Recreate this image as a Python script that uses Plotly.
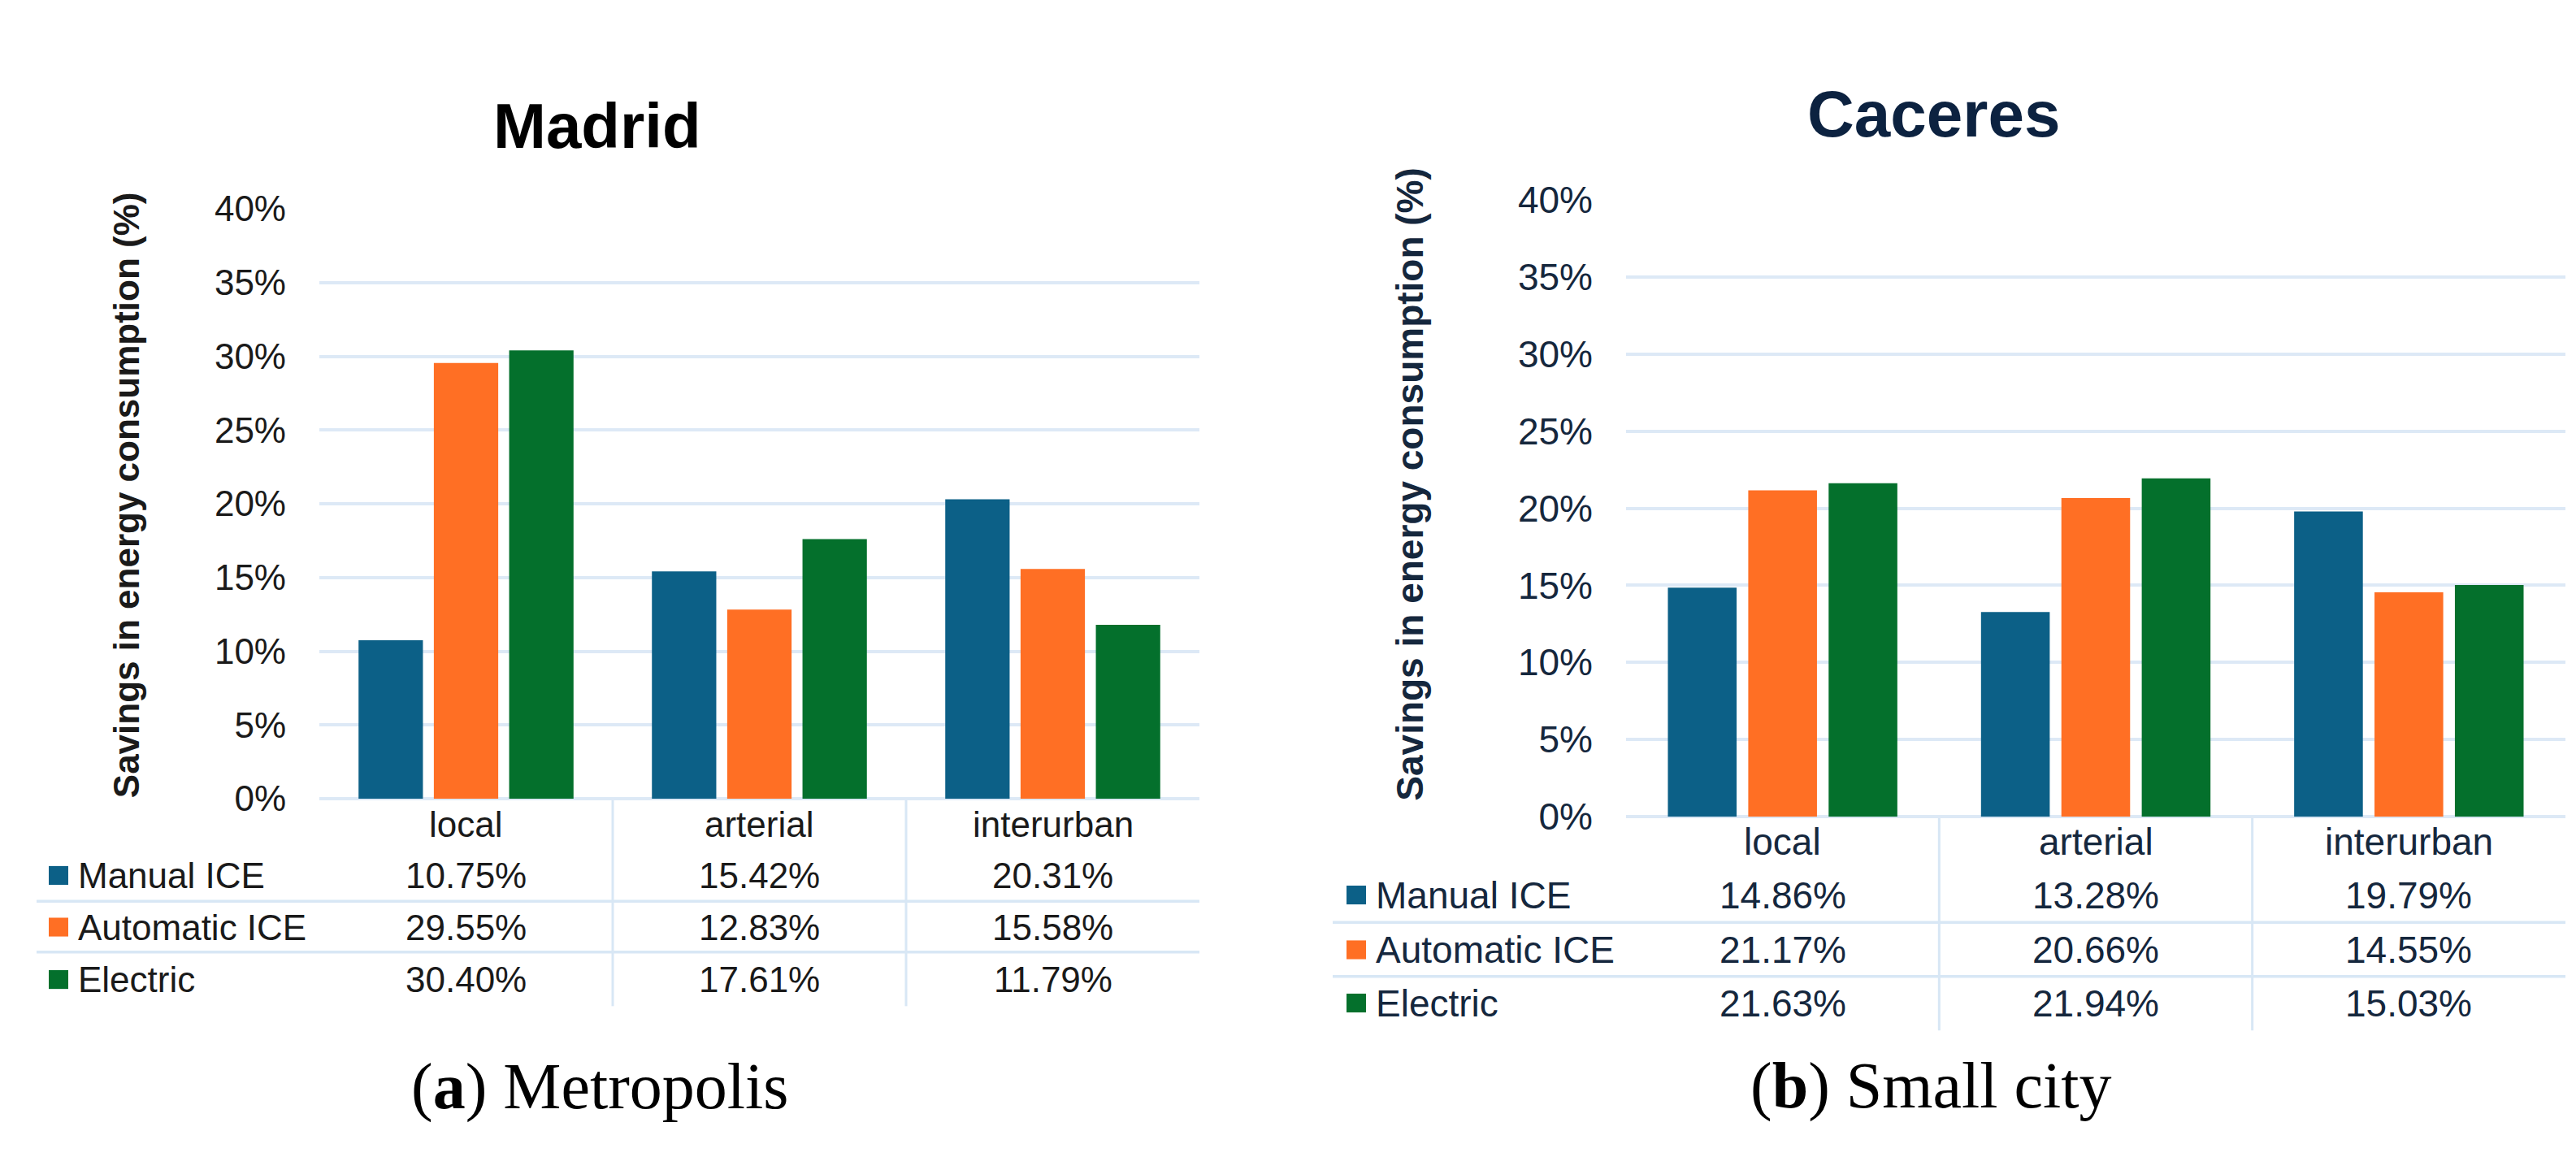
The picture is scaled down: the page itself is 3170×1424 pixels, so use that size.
import plotly.graph_objects as go

W, H = 3170, 1424

categories = ["local", "arterial", "interurban"]
series_names = ["Manual ICE", "Automatic ICE", "Electric"]

madrid_manual = [10.75, 15.42, 20.31]
madrid_automatic = [29.55, 12.83, 15.58]
madrid_electric = [30.40, 17.61, 11.79]

caceres_manual = [14.86, 13.28, 19.79]
caceres_automatic = [21.17, 20.66, 14.55]
caceres_electric = [21.63, 21.94, 15.03]

y_tick_values = [0, 5, 10, 15, 20, 25, 30, 35, 40]
y_tick_labels = ["0%", "5%", "10%", "15%", "20%", "25%", "30%", "35%", "40%"]
panel_titles = ["Madrid", "Caceres"]
captions = ["(<b>a</b>) Metropolis", "(<b>b</b>) Small city"]
y_title = "Savings in energy consumption (%)"

series_colors = ["#0c6087", "#ff6f24", "#04702c"]
grid_color = "#dde9f6"
sep_color = "#d8e7f5"
FONT = "Liberation Sans, Arial, Helvetica, sans-serif"
SERIF = "Liberation Serif, Times New Roman, serif"

# layout of each panel in pixels
panels = [
    dict(data=[madrid_manual, madrid_automatic, madrid_electric],
         x0=385, x1=1468, y0=985, y1=231.5,
         title_xy=(727, 126), title_size=78, title_color="#000000",
         ytitle_x=147, ytitle_y=597, font=44, color="#1a1a1a",
         cat_y=1018, rows_y=[1083, 1149, 1216], seps_y=[1116, 1181],
         table_left=37, sq_x=(52, 76), label_x=86, vsep_bottom=1250,
         caption_xy=(730, 1353)),
    dict(data=[caceres_manual, caceres_automatic, caceres_electric],
         x0=1993, x1=3149, y0=1008, y1=220,
         title_xy=(2371, 111), title_size=80, title_color="#0c2240",
         ytitle_x=1727, ytitle_y=583, font=46, color="#15273d",
         cat_y=1040, rows_y=[1108, 1178, 1246], seps_y=[1143, 1212],
         table_left=1632, sq_x=(1649, 1673), label_x=1683, vsep_bottom=1281,
         caption_xy=(2368, 1352)),
]


def px(x):
    return x / W


def py(y):
    return 1 - y / H


fig = go.Figure()
annotations = []
shapes = []

for i, p in enumerate(panels):
    xa = "x" if i == 0 else "x2"
    ya = "y" if i == 0 else "y2"
    for s, (name, vals) in enumerate(zip(series_names, p["data"])):
        fig.add_trace(go.Bar(
            x=categories, y=vals, name=name, xaxis=xa, yaxis=ya,
            marker=dict(color=series_colors[s], line=dict(width=0)),
            showlegend=False,
        ))
    axis_suffix = "" if i == 0 else "2"
    fig.layout["xaxis" + axis_suffix] = dict(
        domain=[px(p["x0"]), px(p["x1"])], anchor=ya, type="category",
        range=[-0.5, len(categories) - 0.5], showticklabels=False,
        showgrid=False, zeroline=False, showline=False, fixedrange=True,
    )
    fig.layout["yaxis" + axis_suffix] = dict(
        domain=[py(p["y0"]), py(p["y1"])], anchor=xa, range=[0, 40],
        tickmode="array", tickvals=y_tick_values, ticktext=y_tick_labels,
        tickfont=dict(family=FONT, size=p["font"], color=p["color"]),
        showgrid=True, gridcolor=grid_color, gridwidth=3.5,
        zeroline=True, zerolinecolor=grid_color, zerolinewidth=3.5,
        showline=False, ticks="", ticklabelstandoff=40, fixedrange=True,
    )
    xref = xa
    # title
    annotations.append(dict(
        text="<b>%s</b>" % panel_titles[i], x=px(p["title_xy"][0]), y=py(p["title_xy"][1]),
        xref="paper", yref="paper", showarrow=False, xanchor="center", yanchor="middle",
        font=dict(family=FONT, size=p["title_size"], color=p["title_color"]),
    ))
    # y axis title
    annotations.append(dict(
        text="<b>%s</b>" % y_title, x=px(p["ytitle_x"]), y=py(p["ytitle_y"]),
        xref="paper", yref="paper", showarrow=False, xanchor="center", yanchor="middle",
        textangle=-90, font=dict(family=FONT, size=p["font"], color=p["color"]),
    ))
    # category labels (table header)
    for c, cat in enumerate(categories):
        annotations.append(dict(
            text=cat, x=c, y=py(p["cat_y"]), xref=xref, yref="paper",
            showarrow=False, xanchor="center", yanchor="middle",
            font=dict(family=FONT, size=p["font"], color=p["color"]),
        ))
    # table rows
    for s, (name, vals) in enumerate(zip(series_names, p["data"])):
        ry = p["rows_y"][s]
        annotations.append(dict(
            text=name, x=px(p["label_x"]), y=py(ry), xref="paper", yref="paper",
            showarrow=False, xanchor="left", yanchor="middle",
            font=dict(family=FONT, size=p["font"], color=p["color"]),
        ))
        half = (p["sq_x"][1] - p["sq_x"][0]) / 2
        shapes.append(dict(
            type="rect", xref="paper", yref="paper",
            x0=px(p["sq_x"][0]), x1=px(p["sq_x"][1]),
            y0=py(ry + half), y1=py(ry - half),
            fillcolor=series_colors[s], line=dict(width=0),
        ))
        for c, v in enumerate(vals):
            annotations.append(dict(
                text="%.2f%%" % v, x=c, y=py(ry), xref=xref, yref="paper",
                showarrow=False, xanchor="center", yanchor="middle",
                font=dict(family=FONT, size=p["font"], color=p["color"]),
            ))
    # horizontal row separators
    for sy in p["seps_y"]:
        shapes.append(dict(
            type="line", xref="paper", yref="paper",
            x0=px(p["table_left"]), x1=px(p["x1"]), y0=py(sy), y1=py(sy),
            line=dict(color=sep_color, width=3.5), layer="below",
        ))
    # vertical separators between categories
    for c in range(1, len(categories)):
        shapes.append(dict(
            type="line", xref=xref, yref="paper",
            x0=c - 0.5, x1=c - 0.5, y0=py(p["y0"]), y1=py(p["vsep_bottom"]),
            line=dict(color=sep_color, width=3), layer="below",
        ))
    # caption
    annotations.append(dict(
        text=captions[i], x=px(p["caption_xy"][0]), y=py(p["caption_xy"][1]),
        xref="paper", yref="paper", showarrow=False, xanchor="center", yanchor="middle",
        font=dict(family=SERIF, size=80, color="#000000"),
    ))

fig.update_layout(
    width=W, height=H, margin=dict(l=0, r=0, t=0, b=0),
    paper_bgcolor="white", plot_bgcolor="white",
    barmode="group", bargap=0.23, bargroupgap=0.145,
    annotations=annotations, shapes=shapes, showlegend=False,
)

fig.write_html("out.html", config={"displayModeBar": False})
